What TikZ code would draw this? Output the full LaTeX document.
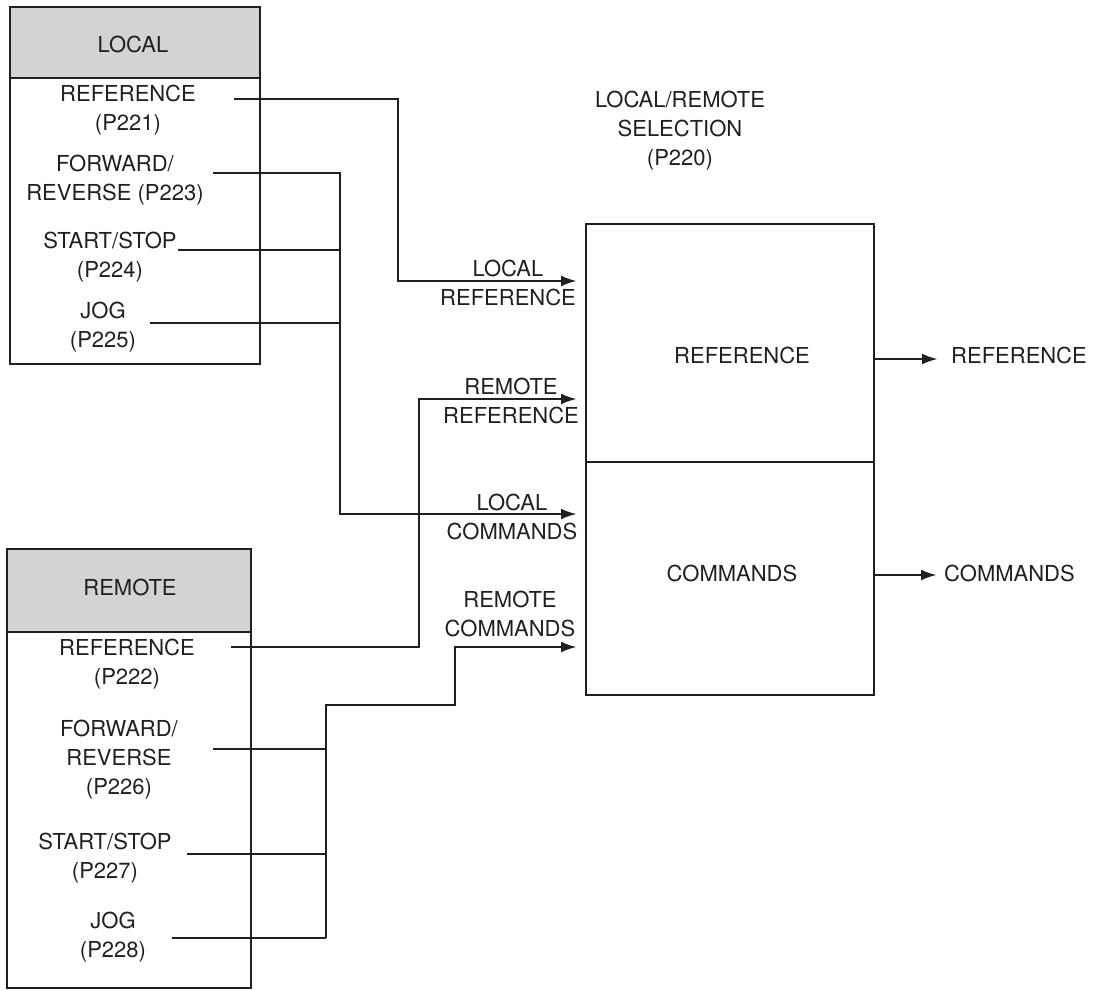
\documentclass[tikz,border=0pt]{standalone}
\usepackage{fontspec}
\setmainfont{TeX Gyre Heros}
\usetikzlibrary{arrows.meta}
\definecolor{ink}{HTML}{231F20}
\definecolor{hdr}{HTML}{D1D3D4}
\tikzset{
  txt/.style={inner sep=0pt, align=center, text=ink, font=\fontsize{22}{29}\selectfont},
  boxline/.style={draw=ink, line width=1.9pt},
  wire/.style={draw=ink, line width=2.7pt},
  arr/.style={wire, -{Latex[length=16pt,width=11pt]}},
}
\begin{document}
\begin{tikzpicture}[x=1pt,y=-1pt]
\useasboundingbox (0,0) rectangle (1102,990);
% boxes
\filldraw[boxline, fill=hdr] (10,7) rectangle (260,78);
\draw[boxline] (10,78) rectangle (260,364);
\filldraw[boxline, fill=hdr] (7,549) rectangle (251,632);
\draw[boxline] (7,632) rectangle (251,988);
\draw[boxline] (586,224) rectangle (874,695);
\draw[boxline] (586,462) -- (874,462);
% texts local
\node[txt] (loc) at (133,44) {LOCAL};
\node[txt] (lref) at (128,110) {REFERENCE\\(P221)};
\node[txt] (lfr) at (115,180) {FORWARD/\\REVERSE (P223)};
\node[txt] (lss) at (110,257) {START/STOP\\(P224)};
\node[txt] (ljog) at (103,327) {JOG\\(P225)};
% texts remote
\node[txt] (rem) at (130,587) {REMOTE};
\node[txt] (rref) at (127,664) {REFERENCE\\(P222)};
\node[txt] (rfr) at (119,760) {FORWARD/\\REVERSE\\(P226)};
\node[txt] (rss) at (105,858) {START/STOP\\(P227)};
\node[txt] (rjog) at (113,937) {JOG\\(P228)};
% selection
\node[txt] (title) at (680,131) {LOCAL/REMOTE\\SELECTION\\(P220)};
\node[txt] (iref) at (742,355) {REFERENCE};
\node[txt] (icmd) at (732,573) {COMMANDS};
\node[txt, anchor=west] (oref) at (951,355) {REFERENCE};
\node[txt, anchor=west] (ocmd) at (944,573) {COMMANDS};
% arrow labels
\node[txt] (llref) at (508,283) {LOCAL\\REFERENCE};
\node[txt] (lrref) at (511,401) {REMOTE\\REFERENCE};
\node[txt] (llcmd) at (512,517) {LOCAL\\COMMANDS};
\node[txt] (lrcmd) at (510,614) {REMOTE\\COMMANDS};
% coordinates
\coordinate (a1) at (234,99);
\coordinate (a2) at (398,99);
\coordinate (a3) at (398,281);
\coordinate (a4) at (577,281);
\coordinate (b1) at (213,173);
\coordinate (b2) at (340,173);
\coordinate (b3) at (340,514);
\coordinate (b4) at (577,514);
\coordinate (c1) at (178,250);
\coordinate (c2) at (340,250);
\coordinate (d1) at (150,323);
\coordinate (d2) at (340,323);
\coordinate (e1) at (231,647);
\coordinate (e2) at (419,647);
\coordinate (e3) at (419,399);
\coordinate (e4) at (577,399);
\coordinate (f1) at (326,938);
\coordinate (f2) at (326,705);
\coordinate (f3) at (455,705);
\coordinate (f4) at (455,647);
\coordinate (f5) at (577,647);
\coordinate (g1) at (213,749);
\coordinate (g2) at (326,749);
\coordinate (h1) at (187,854);
\coordinate (h2) at (326,854);
\coordinate (k1) at (172,938);
\coordinate (o1) at (874,359);
\coordinate (o2) at (938,359);
\coordinate (p1) at (874,575);
\coordinate (p2) at (937,575);
% connectors
\draw[arr] (a1) -- (a2) -- (a3) -- (a4);
\draw[arr] (b1) -- (b2) -- (b3) -- (b4);
\draw[wire] (c1) -- (c2);
\draw[wire] (d1) -- (d2);
\draw[arr] (e1) -- (e2) -- (e3) -- (e4);
\draw[arr] (f1) -- (f2) -- (f3) -- (f4) -- (f5);
\draw[wire] (g1) -- (g2);
\draw[wire] (h1) -- (h2);
\draw[wire] (k1) -- (f1);
\draw[arr] (o1) -- (o2);
\draw[arr] (p1) -- (p2);
\end{tikzpicture}
\end{document}
